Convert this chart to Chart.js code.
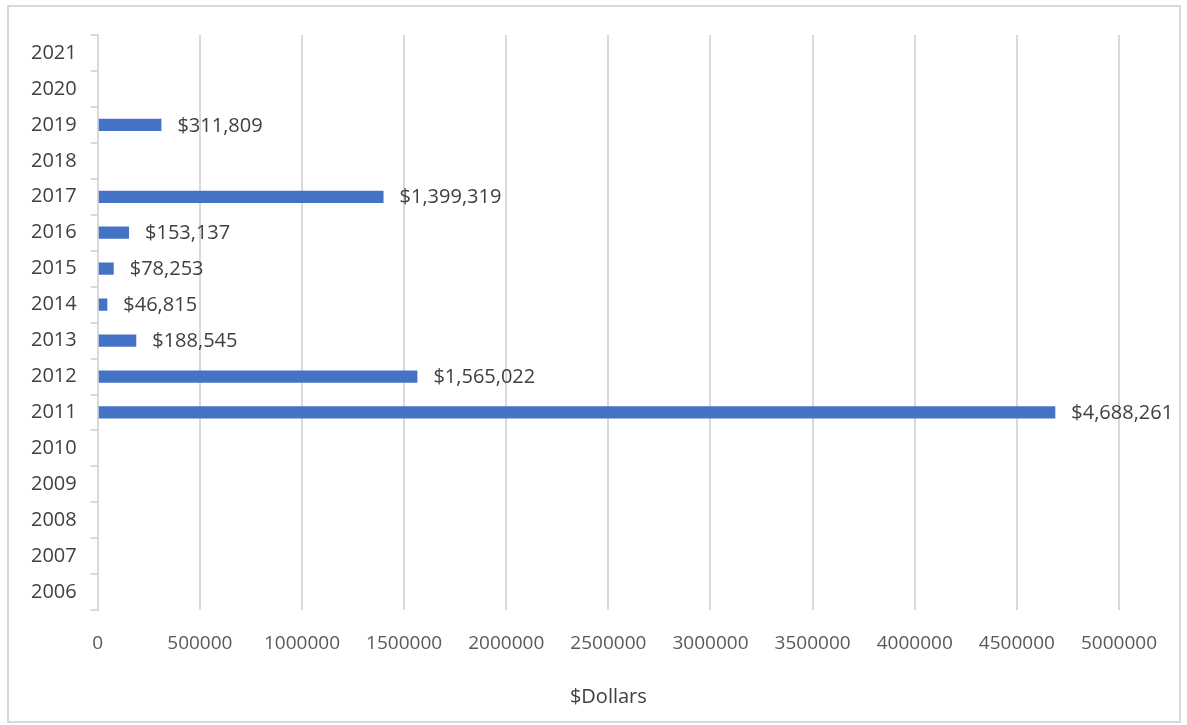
<!DOCTYPE html>
<html lang="en">
<head>
  <meta charset="UTF-8">
  <title>Dollars by Year</title>
  <script src="https://cdn.jsdelivr.net/npm/chart.js"></script>
  <style>
    body {
      margin: 0;
      background: #ffffff;
    }
    #wrap {
      position: absolute;
      left: 7px;
      top: 5px;
      width: 1170px;
      height: 714px;
      border: 2px solid #d9d9d9;
      background: #ffffff;
    }
  </style>
</head>
<body>
  <div id="wrap"><canvas id="dollarChart"></canvas></div>

  <script>
    const years = ['2021', '2020', '2019', '2018', '2017', '2016', '2015', '2014',
                   '2013', '2012', '2011', '2010', '2009', '2008', '2007', '2006'];
    const dollars = [null, null, 311809, null, 1399319, 153137, 78253, 46815,
                     188545, 1565022, 4688261, null, null, null, null, null];
    const axisTitle = '$Dollars';

    const fontFamily = "'Open Sans', 'Noto Sans', sans-serif";

    // draw "$1,234" after each bar end
    const valueLabels = {
      id: 'valueLabels',
      afterDatasetsDraw(chart) {
        const c = chart.ctx;
        const meta = chart.getDatasetMeta(0);
        c.save();
        c.font = '20px ' + fontFamily;
        c.fillStyle = '#404040';
        c.textBaseline = 'middle';
        c.textAlign = 'left';
        meta.data.forEach((bar, i) => {
          const v = dollars[i];
          if (v == null) return;
          c.fillText('$' + v.toLocaleString('en-US'), bar.x + 16, bar.y + 1);
        });
        c.restore();
      }
    };

    const ctx = document.getElementById('dollarChart').getContext('2d');
    new Chart(ctx, {
      type: 'bar',
      data: {
        labels: years,
        datasets: [{
          data: dollars,
          backgroundColor: '#4472c4',
          barPercentage: 0.68,
          categoryPercentage: 0.5
        }]
      },
      options: {
        indexAxis: 'y',
        responsive: true,
        maintainAspectRatio: false,
        animation: false,
        layout: {
          padding: { left: 8, right: 51, top: 28, bottom: 8 }
        },
        scales: {
          x: {
            min: 0,
            max: 5000000,
            ticks: {
              stepSize: 500000,
              color: '#595959',
              font: { family: fontFamily, size: 19 },
              padding: 22,
              callback: v => String(v)
            },
            grid: { color: '#d9d9d9', lineWidth: 2, drawTicks: false },
            border: { display: false },
            title: {
              display: true,
              text: axisTitle,
              color: '#404040',
              font: { family: fontFamily, size: 20 },
              padding: { top: 8 }
            }
          },
          y: {
            ticks: {
              color: '#404040',
              font: { family: fontFamily, size: 20 },
              padding: 14
            },
            grid: {
              drawOnChartArea: false,
              drawTicks: true,
              tickLength: 7,
              color: '#d9d9d9',
              lineWidth: 2
            },
            border: { display: true, color: '#d9d9d9', width: 2 }
          }
        },
        plugins: {
          legend: { display: false },
          tooltip: { enabled: false }
        }
      },
      plugins: [valueLabels]
    });
  </script>
</body>
</html>
